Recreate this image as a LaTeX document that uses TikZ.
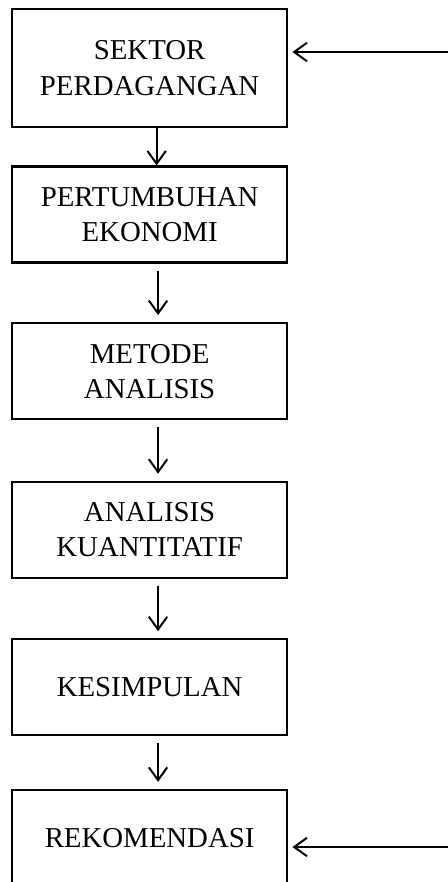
\documentclass[tikz,border=0pt]{standalone}
\usepackage{fontspec}
\setmainfont{Liberation Serif}
\usetikzlibrary{arrows.meta,positioning}
\tikzset{
  %% flow box
  box/.style={draw, line width=1.6pt,
    minimum width=6.875cm, minimum height=2.4cm,
    align=center, inner sep=2pt,
    font=\fontsize{20.5}{25}\selectfont},
  %% arrows
  arr/.style={-{Straight Barb[length=3.2mm,width=4.6mm]}, line width=1.4pt},
  gap/.style={shorten <=5pt, shorten >=5pt}
}
\begin{document}
\begin{tikzpicture}[node distance=1.5cm]
\useasboundingbox (0,0) rectangle (11.2,-22.05);
\clip (0,0) rectangle (11.2,-22.05);

% boxes
\node[box, minimum height=2.95cm, anchor=north west] (sektor) at (0.275,-0.2)
  {SEKTOR\\PERDAGANGAN};
\node[box, below=0.93cm of sektor]        (pertumbuhan) {PERTUMBUHAN\\EKONOMI};
\node[box, below=1.46cm of pertumbuhan] (metode)    {METODE\\ANALISIS};
\node[box, below=1.51cm of metode]    (kuantitatif) {ANALISIS\\KUANTITATIF};
\node[box, below=1.48cm of kuantitatif] (kesimpulan) {KESIMPULAN};
\node[box, below=1.31cm of kesimpulan] (rekomendasi) {REKOMENDASI};

% inputs from the right
\coordinate (inTop) at (11.2,-1.3);
\coordinate (inBot) at (11.2,-21.175);

% arrows
\draw[arr] ([xshift=5pt]sektor.south) -- ([xshift=5pt]pertumbuhan.north);
\draw[arr, gap] ([xshift=6pt]pertumbuhan.south) -- ([xshift=6pt]metode.north);
\draw[arr, gap] ([xshift=6pt]metode.south) -- ([xshift=6pt]kuantitatif.north);
\draw[arr, gap] ([xshift=6pt]kuantitatif.south) -- ([xshift=6pt]kesimpulan.north);
\draw[arr, gap] ([xshift=6pt]kesimpulan.south) -- ([xshift=6pt]rekomendasi.north);

\draw[arr, shorten >=3pt] (inTop) -- (inTop -| sektor.east);
\draw[arr, shorten >=3pt] (inBot) -- (inBot -| rekomendasi.east);
\end{tikzpicture}
\end{document}
